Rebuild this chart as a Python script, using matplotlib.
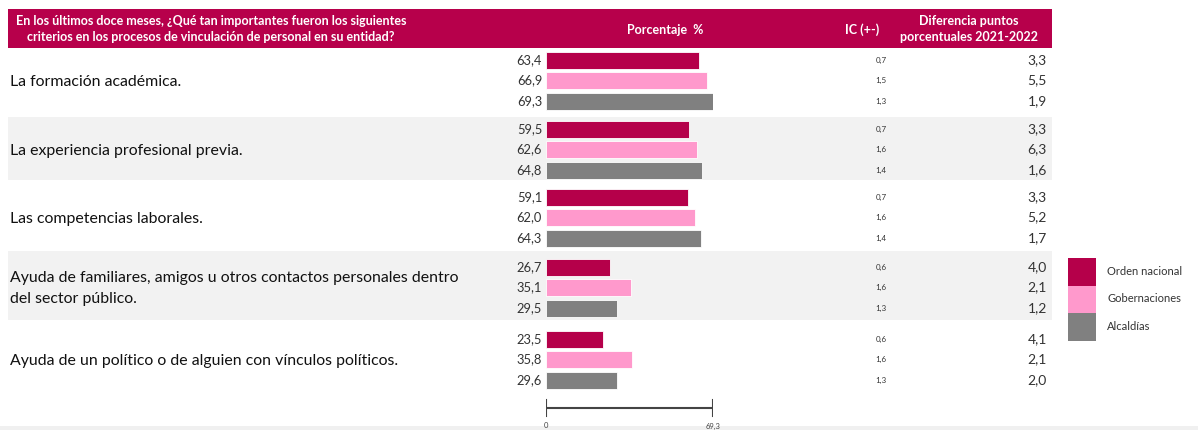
import matplotlib.pyplot as plt
from matplotlib.patches import Rectangle

plt.rcParams['font.family'] = ['Lato', 'DejaVu Sans']

categories = [
    "La formación académica.",
    "La experiencia profesional previa.",
    "Las competencias laborales.",
    "Ayuda de familiares, amigos u otros contactos personales dentro\ndel sector público.",
    "Ayuda de un político o de alguien con vínculos políticos.",
]
series = ["Orden nacional", "Gobernaciones", "Alcaldías"]
orden_nacional = [63.4, 59.5, 59.1, 26.7, 23.5]
gobernaciones = [66.9, 62.6, 62.0, 35.1, 35.8]
alcaldias = [69.3, 64.8, 64.3, 29.5, 29.6]
ic_orden = [0.7, 0.7, 0.7, 0.6, 0.6]
ic_gob = [1.5, 1.6, 1.6, 1.6, 1.6]
ic_alc = [1.3, 1.4, 1.4, 1.3, 1.3]
dif_orden = [3.3, 3.3, 3.3, 4.0, 4.1]
dif_gob = [5.5, 6.3, 5.2, 2.1, 2.1]
dif_alc = [1.9, 1.6, 1.7, 1.2, 2.0]

colors = ["#b5004a", "#ff99cc", "#808080"]
crimson = "#b7004b"
W, H = 1198, 430


def fmt(v):
    return f"{v:.1f}".replace(".", ",")


fig = plt.figure(figsize=(W / 100, H / 100), dpi=100)
bg = fig.add_axes([0, 0, 1, 1])
bg.set_xlim(0, W)
bg.set_ylim(H, 0)
bg.axis("off")

# header band
bg.add_patch(Rectangle((8, 9), 1044, 39, color=crimson, lw=0))
hdr = dict(color="white", fontsize=9, fontweight="bold", va="center", ha="center")
bg.text(211, 29, "En los últimos doce meses, ¿Qué tan importantes fueron los siguientes\n"
        "criterios en los procesos de vinculación de personal en su entidad?",
        linespacing=1.45, **hdr)
bg.text(665, 30, "Porcentaje  %", **hdr)
bg.text(862, 30, "IC (+-)", **hdr)
bg.text(969, 29, "Diferencia puntos\nporcentuales 2021-2022", linespacing=1.45, **hdr)

# rows
first_bar = [60, 129, 197, 267, 339]
step = 20.5
bands = [(50, 115), (117, 180), (182, 250), (251, 320), (322, 392)]
for i, (top, bot) in enumerate(bands):
    if i % 2 == 1:
        bg.add_patch(Rectangle((8, top), 1044, bot - top, color="#f2f2f2", lw=0))
bg.add_patch(Rectangle((0, 426), W, 4, color="#f0f0f0", lw=0))

ax = fig.add_axes([546 / W, 0, 167 / W, 1])
ax.set_xlim(0, max(alcaldias))
ax.set_ylim(H, 0)
ax.axis("off")

vals = [orden_nacional, gobernaciones, alcaldias]
ics = [ic_orden, ic_gob, ic_alc]
difs = [dif_orden, dif_gob, dif_alc]
for g, cat in enumerate(categories):
    center = first_bar[g] + step
    bg.text(10, center + 1, cat, fontsize=11.4, color="#111111", va="center",
            ha="left", linespacing=1.55)
    for s in range(3):
        y = first_bar[g] + s * step
        ax.barh(y, vals[s][g], height=17, left=0, color=colors[s],
                edgecolor="white", linewidth=0.6)
        bg.text(542, y, fmt(vals[s][g]), fontsize=9.3, color="#333333",
                ha="right", va="center")
        bg.text(881, y, fmt(ics[s][g]), fontsize=5.8, color="#333333",
                ha="center", va="center")
        bg.text(1047, y, fmt(difs[s][g]), fontsize=10, color="#333333",
                ha="right", va="center")

# scale bar
xmax = max(alcaldias)
ax.plot([0, xmax], [408, 408], color="#444444", lw=1.5, solid_capstyle="butt")
for xv in (0, xmax):
    ax.plot([xv, xv], [400, 416], color="#444444", lw=1.5)
    ax.text(xv, 426, fmt(xv) if xv else "0", fontsize=5.5, color="#444444",
            ha="center", va="center", clip_on=False)

# legend
for s, name in enumerate(series):
    top = 258 + s * 27.5
    bg.add_patch(Rectangle((1068, top), 28, 27.5, color=colors[s], lw=0))
    bg.text(1107, top + 13.5, name, fontsize=8, color="#333333", va="center")

fig.savefig("out.png", dpi=100)
